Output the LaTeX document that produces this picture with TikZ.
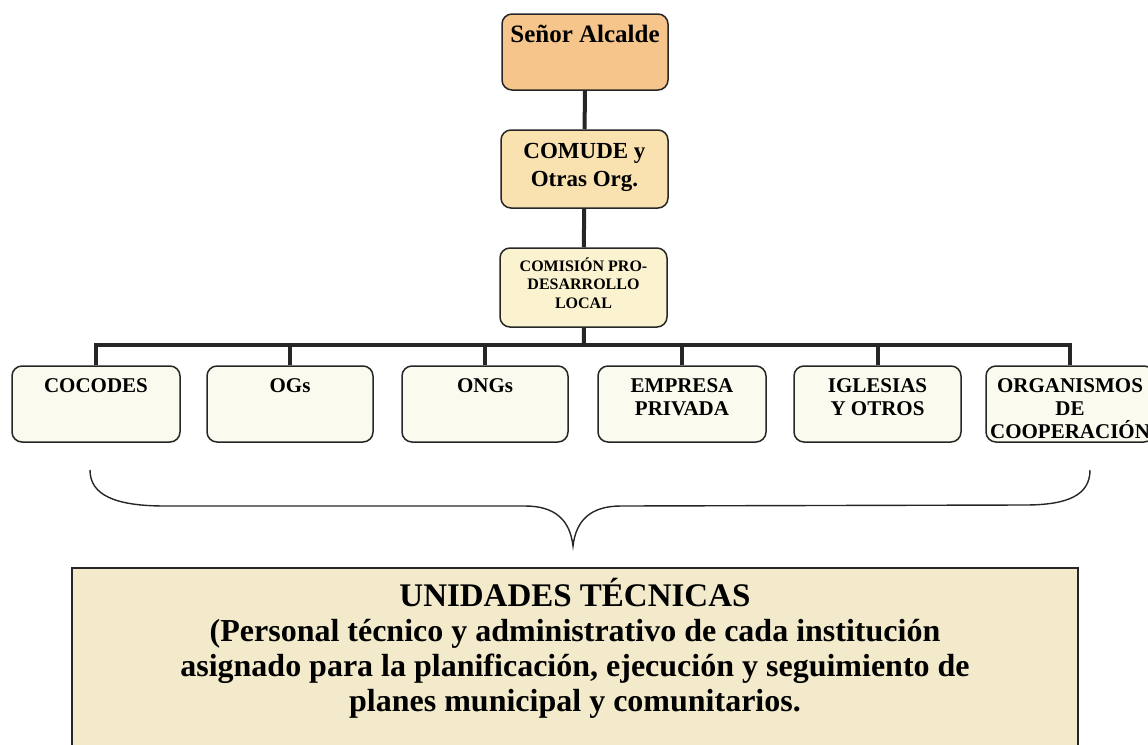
\documentclass[tikz,border=0pt]{standalone}
\usepackage{fontspec}
\setmainfont{Liberation Serif}
\usetikzlibrary{positioning}
\usepackage{xcolor}
\definecolor{alcaldefill}{HTML}{F5C58C}
\definecolor{comudefill}{HTML}{FAE2B0}
\definecolor{comisionfill}{HTML}{FBF2D0}
\definecolor{orgfill}{HTML}{FBFAEF}
\definecolor{unidadfill}{HTML}{F2EACB}
\tikzset{
  orgbox/.style={draw=black!85, rectangle, rounded corners=10pt, line width=1.5pt, align=center},
  link/.style={draw=black!85, line width=4pt},
}
\newcommand{\toptext}[2]{\parbox[c][#1][t]{160pt}{\centering #2}}

\begin{document}
\begin{tikzpicture}[x=1pt, y=-1pt]
    \clip (0,0) rectangle (1148,744);

    % Top of the chart
    \node[orgbox, fill=alcaldefill, minimum width=166pt, minimum height=76pt, inner sep=2pt,
          font=\bfseries\fontsize{25}{28}\selectfont] (alcalde) at (585,52)
    {\toptext{54pt}{Señor Alcalde}};
    \node[orgbox, fill=comudefill, minimum width=167pt, minimum height=78pt,
          font=\bfseries\fontsize{23}{28}\selectfont] (comude) at (584.5,169)
    {\toptext{52pt}{COMUDE y\\ Otras Org.}};
    \node[orgbox, fill=comisionfill, minimum width=167pt, minimum height=79pt,
          font=\bfseries\fontsize{16}{18.5}\selectfont] (comision) at (583.5,287.5)
    {\toptext{60pt}{COMISIÓN PRO-\\ DESARROLLO\\ LOCAL}};

    % Institutions under the commission
    \node[orgbox, fill=orgfill, minimum width=168pt, minimum height=76pt, inner sep=2pt,
          font=\bfseries\fontsize{21}{23}\selectfont] (cocodes) at (96,404)
    {\toptext{50pt}{COCODES}};
    \node[orgbox, fill=orgfill, minimum width=166pt, minimum height=76pt, inner sep=2pt,
          font=\bfseries\fontsize{21}{23}\selectfont] (ogs) at (290,404)
    {\toptext{50pt}{OGs}};
    \node[orgbox, fill=orgfill, minimum width=166pt, minimum height=76pt, inner sep=2pt,
          font=\bfseries\fontsize{21}{23}\selectfont] (ongs) at (485,404)
    {\toptext{50pt}{ONGs}};
    \node[orgbox, fill=orgfill, minimum width=168pt, minimum height=76pt, inner sep=2pt,
          font=\bfseries\fontsize{21}{23}\selectfont] (empresa) at (682,404)
    {\toptext{50pt}{EMPRESA\\ PRIVADA}};
    \node[orgbox, fill=orgfill, minimum width=167pt, minimum height=76pt, inner sep=2pt,
          font=\bfseries\fontsize{21}{23}\selectfont] (iglesias) at (877.5,404)
    {\toptext{50pt}{IGLESIAS\\ Y OTROS}};
    \node[orgbox, fill=orgfill, minimum width=168pt, minimum height=76pt, inner sep=2pt,
          font=\bfseries\fontsize{21}{23}\selectfont] (cooperacion) at (1070,404)
    {\toptext{50pt}{ORGANISMOS\\ DE\\ COOPERACIÓN}};

    % Connectors
    \coordinate (bus) at (584,345);
    \draw[link] (alcalde) -- (comude);
    \draw[link] (comude) -- (comision);
    \draw[link] (comision) -- (bus);
    \foreach \n in {cocodes, ogs, ongs, empresa, iglesias, cooperacion}
        \draw[link] (bus) -| (\n.north);

    % Brace over the institutions
    \coordinate (braceleft) at (90,470);
    \coordinate (braceright) at (1090,470);
    \coordinate (bracetip) at (573,546);
    \draw[black!85, line width=1.4pt] (braceleft) .. controls (90,495) and (115,506) .. (165,506)
        -- (525,506) .. controls (555,506) and (570,520) .. (bracetip)
        .. controls (576,520) and (591,506) .. (621,506)
        -- (1025,505) .. controls (1068,505) and (1090,495) .. (braceright);

    % Technical units
    \node[draw=black!85, line width=1.8pt, fill=unidadfill, minimum width=1006pt, minimum height=200pt, anchor=north] (unidades) at (575,567) {};
    \node[align=center, anchor=north, font=\bfseries\fontsize{32}{35}\selectfont] (unidadestexto) at (575,575)
    {{\fontsize{33}{35}\selectfont UNIDADES TÉCNICAS}\\
     (Personal técnico y administrativo de cada institución\\
     asignado para la planificación, ejecución y seguimiento de\\
     planes municipal y comunitarios.};
\end{tikzpicture}
\end{document}
